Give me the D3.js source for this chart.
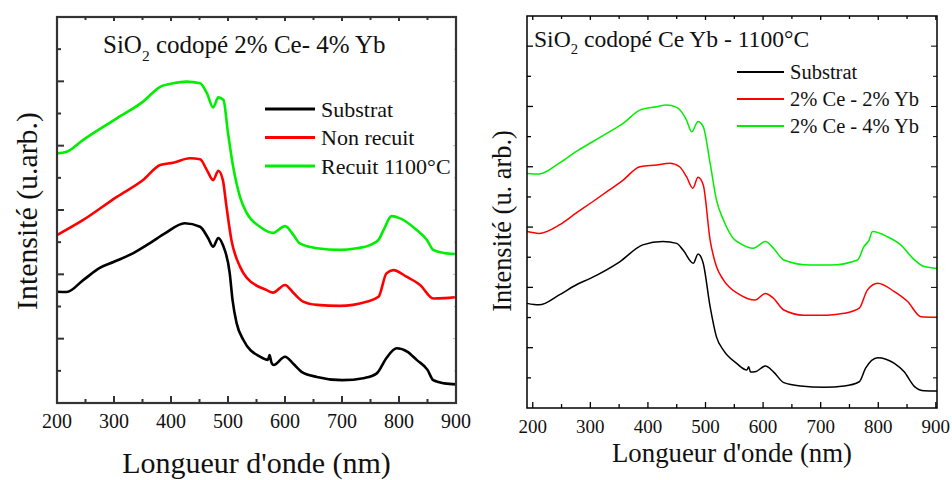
<!DOCTYPE html>
<html>
<head>
<meta charset="utf-8">
<script src="https://cdn.jsdelivr.net/npm/d3@7/dist/d3.min.js"></script>
<style>
  body { margin: 0; background: #fff; }
  text { font-family: "Liberation Serif", "DejaVu Serif", serif; fill: #111; }
</style>
</head>
<body>
<div id="chart"></div>
<script>
// ---- données panneau gauche (SiO2 codopé 2% Ce- 4% Yb) ----
var leftSubNm   = [200,217,246,275,300,334,363,390,424,451,465,474,483,491,503,508,515,527,556,570,573,576,580,600,615,629,656,700,740,761,778,796,815,831,850,860,880,900];
var leftSubVal  = [3.46,3.45,3.82,4.20,4.39,4.66,4.97,5.28,5.59,5.48,5.13,4.86,5.13,4.91,4.04,3.20,2.49,1.96,1.44,1.34,1.49,1.27,1.18,1.44,1.21,0.97,0.81,0.71,0.78,0.92,1.40,1.70,1.59,1.34,1.03,0.71,0.61,0.58];
var leftNonNm   = [200,246,305,351,381,404,433,451,463,474,483,491,497,506,521,533,568,579,600,615,632,656,696,743,764,778,790,813,837,860,880,898];
var leftNonVal  = [5.22,5.69,6.41,6.93,7.40,7.47,7.61,7.58,7.24,6.93,7.22,6.93,6.15,5.07,4.24,3.89,3.51,3.43,3.67,3.42,3.15,3.05,3.02,3.15,3.30,4.03,4.13,3.93,3.67,3.25,3.26,3.29];
var leftRecNm   = [200,217,246,305,351,381,404,427,451,463,474,483,492,500,509,521,533,556,579,600,615,626,656,696,726,749,764,773,787,802,831,849,860,880,898];
var leftRecVal  = [7.76,7.81,8.18,8.85,9.37,9.83,9.94,9.99,9.94,9.63,9.19,9.50,9.42,8.39,7.35,6.41,5.90,5.48,5.29,5.50,5.22,4.96,4.81,4.76,4.81,4.91,5.07,5.38,5.81,5.74,5.38,5.07,4.76,4.66,4.63];

// ---- données panneau droit (SiO2 codopé Ce Yb - 1100°C) ----
var rightSubNm  = [190,211,246,275,300,351,391,426,450,461,479,487,496,508,519,531,554,572,575,578,586,604,618,636,665,706,741,767,778,799,828,845,863,880,902];
var rightSubVal = [3.47,3.42,3.75,4.08,4.30,4.85,5.41,5.52,5.46,5.24,4.80,5.11,4.80,3.36,2.36,1.92,1.48,1.26,1.37,1.19,1.20,1.39,1.20,0.84,0.73,0.69,0.73,0.87,1.32,1.67,1.48,1.20,0.71,0.57,0.56];
var right22Nm   = [190,211,246,275,304,333,357,386,415,438,455,467,478,487,496,508,519,531,560,586,604,618,636,671,711,741,767,781,799,828,851,874,902];
var right22Val  = [5.85,5.79,6.07,6.46,6.84,7.23,7.56,8.00,8.06,8.12,8.00,7.67,7.29,7.65,7.40,5.57,4.69,4.25,3.75,3.58,3.80,3.64,3.25,3.08,3.08,3.14,3.31,3.91,4.14,3.86,3.53,3.03,3.01];
var right24Nm   = [190,211,246,275,304,333,357,386,415,432,450,467,476,487,496,508,519,531,548,560,583,604,618,636,682,717,764,775,784,790,816,839,863,880,902];
var right24Val  = [7.78,7.76,8.12,8.50,8.83,9.16,9.44,9.88,9.99,10.05,9.97,9.55,9.16,9.50,9.33,8.12,6.90,6.24,5.63,5.46,5.30,5.52,5.30,4.91,4.74,4.74,4.91,5.35,5.57,5.85,5.68,5.41,4.91,4.69,4.63];

var xTicks = [200,300,400,500,600,700,800,900];

var svg = d3.select("#chart").append("svg").attr("width", 952).attr("height", 480);

function zip(nm, val) {
  return nm.map(function(d, i) { return {x: d, y: val[i]}; });
}

// un panneau
function drawPanel(p) {
  var g = svg.append("g");
  var xScale = d3.scaleLinear().domain(p.xDomain).range([p.x0, p.x1]);
  var yScale = d3.scaleLinear().domain([0, p.yMax]).range([p.y1, p.y0]);

  var minorX = d3.range(200, 901, 50).filter(function(d){ return d % 100 != 0; });
  var yAll = d3.range(1, p.yMax);

  // ticks bas (vers l'intérieur)
  g.selectAll(".xmaj").data(xTicks).enter().append("line")
    .attr("x1", xScale).attr("x2", xScale).attr("y1", p.y1).attr("y2", p.y1 - p.majLen)
    .attr("stroke", p.axisColor).attr("stroke-width", p.tickW);
  g.selectAll(".xmin").data(minorX).enter().append("line")
    .attr("x1", xScale).attr("x2", xScale).attr("y1", p.y1).attr("y2", p.y1 - p.minLen)
    .attr("stroke", p.axisColor).attr("stroke-width", p.tickW);
  // ticks haut
  g.selectAll(".xtop").data(xTicks.concat(minorX)).enter().append("line")
    .attr("x1", xScale).attr("x2", xScale).attr("y1", p.y0).attr("y2", function(d){ return p.y0 + (d % 100 == 0 ? p.minLen : p.minLen - 1); })
    .attr("stroke", p.axisColor).attr("stroke-width", p.tickW);
  // ticks gauche
  g.selectAll(".yl").data(yAll).enter().append("line")
    .attr("x1", p.x0).attr("x2", function(d){ return p.x0 + (d % 2 == 0 ? p.majLen : p.minLen); })
    .attr("y1", yScale).attr("y2", yScale)
    .attr("stroke", p.axisColor).attr("stroke-width", p.tickW);
  // ticks droite
  g.selectAll(".yr").data(yAll).enter().append("line")
    .attr("x1", p.x1).attr("x2", function(d){ return p.x1 - (d % 2 == 0 ? p.rMaj : p.rMin); })
    .attr("y1", yScale).attr("y2", yScale)
    .attr("stroke", p.rColor).attr("stroke-width", 1);

  // étiquettes x
  g.selectAll(".xlab").data(xTicks).enter().append("text").text(function(d){ return d; })
    .attr("x", xScale).attr("y", p.tickLabY).attr("text-anchor", "middle").attr("font-size", p.tickFont);

  // courbes
  var line = d3.line().x(function(d){ return xScale(d.x); }).y(function(d){ return yScale(d.y); }).curve(d3.curveMonotoneX);
  p.series.forEach(function(s) {
    g.append("path").datum(zip(s.nm, s.val)).attr("d", line)
      .attr("fill", "none").attr("stroke", s.color).attr("stroke-width", p.lineW)
      .attr("stroke-linejoin", "round");
  });

  // cadre
  g.append("rect").attr("x", p.x0).attr("y", p.y0).attr("width", p.x1 - p.x0).attr("height", p.y1 - p.y0)
    .attr("fill", "none").attr("stroke", p.axisColor).attr("stroke-width", p.frameW);

  // titre avec SiO2
  var t = g.append("text").attr("x", p.titleX).attr("y", p.titleY).attr("font-size", p.titleFont);
  t.append("tspan").text("SiO");
  t.append("tspan").text("2").attr("font-size", p.titleFont * 0.62).attr("dy", p.titleFont * 0.3);
  t.append("tspan").text(p.title).attr("dy", -p.titleFont * 0.3);

  // légende
  p.series.forEach(function(s, i) {
    var ly = p.legY + i * p.legStep;
    g.append("line").attr("x1", p.legX).attr("x2", p.legX + p.legLen).attr("y1", ly).attr("y2", ly)
      .attr("stroke", s.color).attr("stroke-width", p.lineW + 0.5);
    g.append("text").text(s.name).attr("x", p.legX + p.legLen + 6).attr("y", ly).attr("dy", "0.35em")
      .attr("font-size", p.legFont);
  });

  // titres d'axes
  g.append("text").text("Longueur d'onde (nm)").attr("x", (p.x0 + p.x1) / 2).attr("y", p.xLabY)
    .attr("text-anchor", "middle").attr("font-size", p.xLabFont);
  g.append("text").text(p.yLabel).attr("transform", "translate(" + p.yLabX + "," + p.yLabCY + ") rotate(-90)")
    .attr("text-anchor", "middle").attr("font-size", p.yLabFont);
}

drawPanel({
  x0: 57, x1: 456, y0: 17, y1: 403, xDomain: [200, 900], yMax: 12,
  axisColor: "#333", frameW: 2.2, tickW: 2, majLen: 7, minLen: 4, rMaj: 3, rMin: 2, rColor: "#bbb",
  tickLabY: 428, tickFont: 20, lineW: 2.6,
  title: " codopé 2% Ce- 4% Yb", titleX: 103, titleY: 53, titleFont: 25,
  legX: 265, legY: 109, legStep: 28.5, legLen: 50, legFont: 22,
  xLabY: 473, xLabFont: 30, yLabel: "Intensité (u.arb.)", yLabX: 37, yLabCY: 211, yLabFont: 29.8,
  series: [
    {name: "Substrat", nm: leftSubNm, val: leftSubVal, color: "#000"},
    {name: "Non recuit", nm: leftNonNm, val: leftNonVal, color: "#ff0000"},
    {name: "Recuit 1100°C", nm: leftRecNm, val: leftRecVal, color: "#00ee00"}
  ]
});

drawPanel({
  x0: 527, x1: 937, y0: 16, y1: 408, xDomain: [190, 902], yMax: 13,
  axisColor: "#000", frameW: 1.5, tickW: 1.3, majLen: 6, minLen: 4, rMaj: 6, rMin: 4, rColor: "#000",
  tickLabY: 433, tickFont: 19, lineW: 1.5,
  title: " codopé Ce Yb - 1100°C", titleX: 534, titleY: 47, titleFont: 23.6,
  legX: 737, legY: 72, legStep: 27, legLen: 47, legFont: 20.5,
  xLabY: 462, xLabFont: 26.8, yLabel: "Intensité (u. arb.)", yLabX: 511, yLabCY: 221, yLabFont: 26.4,
  series: [
    {name: "Substrat", nm: rightSubNm, val: rightSubVal, color: "#000"},
    {name: "2% Ce - 2% Yb", nm: right22Nm, val: right22Val, color: "#ff0000"},
    {name: "2% Ce - 4% Yb", nm: right24Nm, val: right24Val, color: "#00ee00"}
  ]
});
</script>
</body>
</html>
